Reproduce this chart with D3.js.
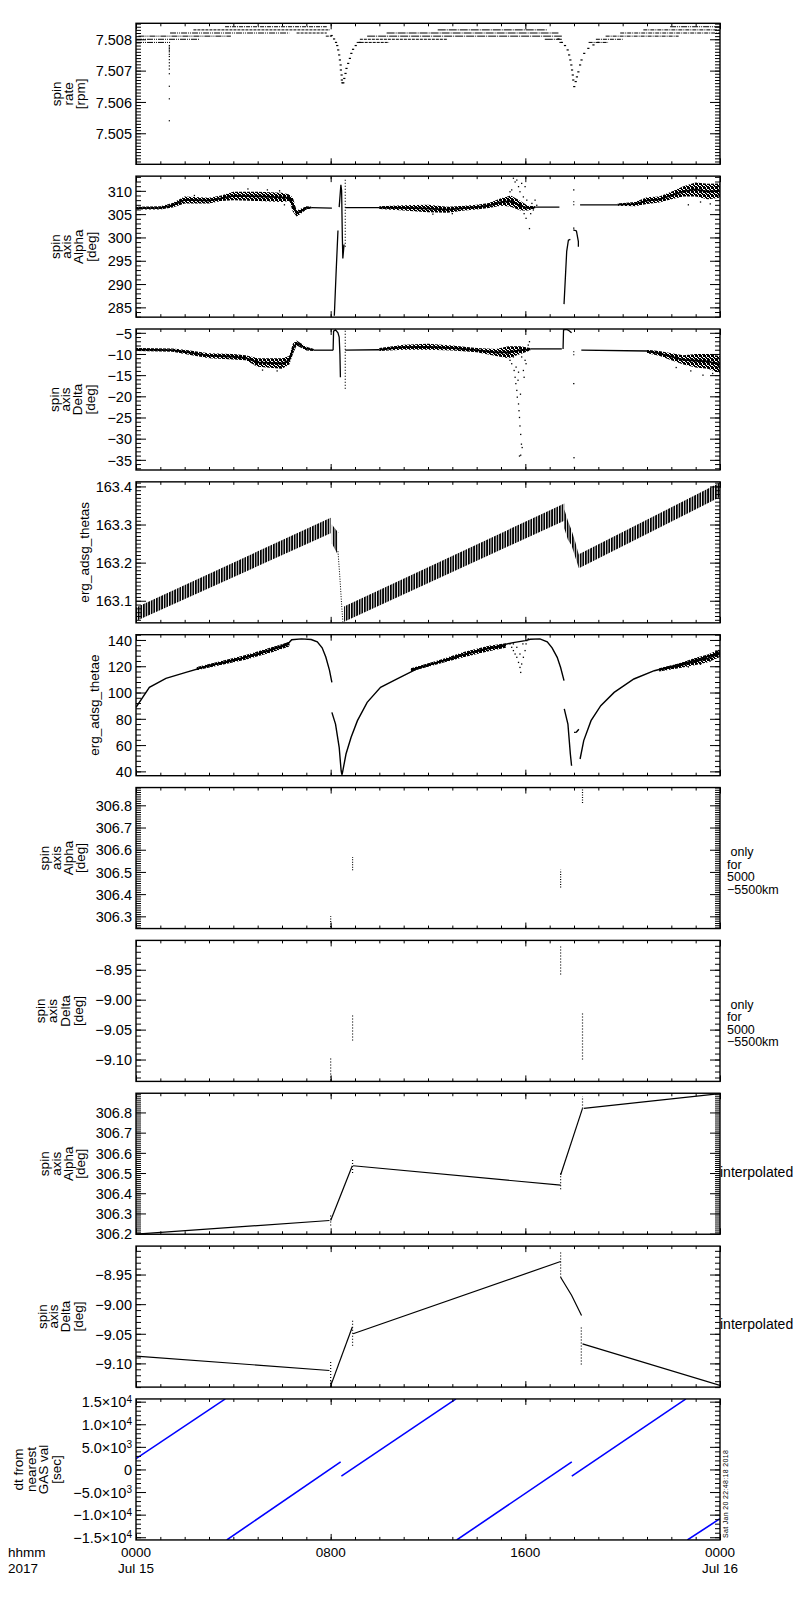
<!DOCTYPE html>
<html>
<head>
<meta charset="utf-8">
<script src="https://cdn.jsdelivr.net/npm/d3@7"></script>
<style>
  body { margin: 0; background: #fff; }
  svg text { font-family: "Liberation Sans", Arial, sans-serif; fill: #000; }
</style>
</head>
<body>
<svg id="chart" width="800" height="1600"></svg>
<script>
// ---------------- data (time in hours from 2017-07-15 00:00) ----------------

var xMajorTicks = [0, 8, 16, 24];
var xTickLabels = [["0000", "Jul 15"], ["0800"], ["1600"], ["0000", "Jul 16"]];

// spin rate: quantised rows [level, t0, t1]
var spinRows = [
  [7.5084, 3.66, 7.84], [7.5084, 21.95, 24],
  [7.5083, 2.36, 7.97], [7.5083, 12.4, 16.9], [7.5083, 20.85, 24],
  [7.5082, 1.4, 6.3], [7.5082, 6.6, 7.84], [7.5082, 10.3, 17.36], [7.5082, 19.9, 24],
  [7.5081, 0.1, 3.9], [7.5081, 7.8, 8.05], [7.5081, 9.5, 17.5], [7.5081, 19.3, 22.3],
  [7.5080, 0, 2.6], [7.5080, 9.2, 12.8], [7.5080, 16.8, 17.5], [7.5080, 18.9, 20.0],
  [7.5079, 0, 1.4], [7.5079, 9.07, 10.4], [7.5079, 17.4, 17.5], [7.5079, 18.6, 19.4]
];
var spinDip1 = [
  [8.04, 7.50812], [8.14, 7.50801], [8.22, 7.5079], [8.27, 7.5078], [8.31, 7.50766],
  [8.35, 7.5075], [8.38, 7.50734], [8.41, 7.50718], [8.42, 7.50702], [8.45, 7.50686],
  [8.46, 7.5067], [8.48, 7.50661], [8.52, 7.50661], [8.56, 7.50675], [8.61, 7.50691],
  [8.65, 7.50707], [8.72, 7.50723], [8.79, 7.50739], [8.85, 7.50755], [8.92, 7.50768],
  [9.03, 7.5078], [9.2, 7.5079]
];
var spinDip2 = [
  [17.36, 7.50801], [17.5, 7.5079], [17.63, 7.5078], [17.74, 7.50766], [17.8, 7.5075],
  [17.85, 7.50734], [17.89, 7.50718], [17.92, 7.50702], [17.95, 7.50686], [17.97, 7.5067],
  [18.01, 7.50649], [18.07, 7.50665], [18.12, 7.5068], [18.18, 7.50696], [18.25, 7.50718],
  [18.31, 7.50734], [18.42, 7.50755], [18.59, 7.50771], [18.8, 7.50782], [19.0, 7.5079]
];
var spinSpike = [
  [1.37, 7.5078], [1.37, 7.50775], [1.37, 7.5077], [1.37, 7.50765], [1.37, 7.5076],
  [1.37, 7.50752], [1.37, 7.50745], [1.37, 7.50735], [1.37, 7.50725], [1.37, 7.50715],
  [1.37, 7.50705], [1.37, 7.5069], [1.37, 7.5065], [1.37, 7.5061], [1.37, 7.5054]
];

// spin axis alpha: noisy bands [t, lo, hi], thin traces [t, v], scattered points
var alphaBands = [
  [[0, 306.0, 306.6], [1.0, 306.0, 306.7], [1.5, 306.4, 307.4], [2.0, 307.3, 308.8], [3.0, 307.3, 308.5],
   [3.5, 307.8, 309.0], [4.0, 308.0, 309.8], [5.0, 307.8, 309.8], [6.0, 307.6, 309.6], [6.3, 307.8, 309.2],
   [6.45, 305.5, 308.5], [6.6, 304.5, 305.8], [6.8, 305.2, 306.2], [7.0, 306.0, 306.7], [7.2, 306.2, 306.6]],
  [[10.0, 306.1, 306.7], [11.0, 305.8, 306.9], [12.0, 305.4, 307.0], [12.8, 305.3, 306.6], [13.5, 305.8, 306.8],
   [14.0, 306.0, 307.0], [14.5, 306.3, 307.4], [15.0, 306.8, 308.4], [15.4, 306.6, 309.0], [15.8, 305.8, 307.8],
   [16.1, 305.8, 306.8], [16.4, 306.2, 306.7]],
  [[19.8, 306.8, 307.3], [20.5, 306.7, 307.6], [21.0, 307.2, 308.6], [21.5, 307.5, 308.8], [22.0, 308.2, 309.8],
   [22.5, 308.8, 311.0], [23.0, 308.8, 311.8], [23.5, 308.2, 311.5], [24.0, 308.5, 311.6]]
];
var alphaLines = [
  [[7.2, 306.4], [8.05, 306.3]],
  [[8.15, 283.2], [8.22, 292], [8.3, 301.5]],
  [[8.35, 306.5], [8.42, 311.3], [8.45, 310.0], [8.48, 300.0], [8.5, 295.5], [8.55, 298.5]],
  [[8.6, 306.4], [10.0, 306.4]],
  [[16.4, 306.5], [17.4, 306.5]],
  [[17.59, 285.7], [17.7, 297.0], [17.77, 299.4], [17.85, 299.6]],
  [[17.97, 301.6], [18.1, 301.4], [18.18, 299.1], [18.18, 298.0]],
  [[18.25, 307.0], [19.8, 307.0]]
];
var alphaColumns = [[8.6, 298.0, 312.5], [17.99, 306.9, 308.2]];
var alphaScatter = [
  [15.37, 309.8], [15.44, 310.2], [15.51, 312.7], [15.58, 311.9], [15.65, 312.3], [15.72, 310.9],
  [15.78, 309.8], [15.81, 307.3], [15.85, 311.6], [15.92, 308.7], [15.95, 305.1], [15.99, 310.9],
  [16.03, 304.1], [16.06, 308.0], [16.12, 306.6], [16.17, 301.9], [16.22, 305.1], [16.27, 307.3],
  [16.33, 305.9], [16.4, 308.0], [16.47, 306.9], [15.65, 308.0], [15.58, 306.6], [15.3, 308.4],
  [17.99, 310.2], [17.99, 302.0], [22.7, 307.0], [23.2, 307.6], [23.6, 307.2], [23.9, 309.0],
  [4.6, 310.4], [5.4, 310.2], [5.9, 310.0], [6.1, 307.0], [2.4, 309.0], [12.2, 305.0], [13.0, 305.1]
];

// spin axis delta
var deltaBands = [
  [[0, -9.3, -8.6], [1.5, -9.5, -8.7], [2.0, -10.0, -9.0], [3.0, -11.0, -9.8], [4.0, -11.3, -10.0],
   [4.5, -11.5, -10.3], [5.0, -13.0, -11.0], [6.0, -13.5, -11.0], [6.3, -12.5, -10.5], [6.45, -10.0, -7.5],
   [6.6, -8.0, -6.8], [7.0, -9.2, -8.3], [7.3, -9.3, -8.8]],
  [[10.0, -9.3, -8.6], [11.0, -9.0, -7.8], [12.0, -9.0, -7.6], [13.0, -9.2, -8.0], [14.0, -9.6, -8.6],
   [14.8, -10.5, -8.8], [15.3, -11.0, -8.2], [15.8, -10.0, -8.2], [16.2, -9.2, -8.6]],
  [[21.0, -9.8, -9.0], [21.5, -10.4, -9.3], [22.0, -11.5, -9.8], [22.5, -12.5, -10.3], [23.0, -13.2, -10.0],
   [23.5, -13.5, -10.0], [24.0, -14.5, -10.5]]
];
var deltaLines = [
  [[7.3, -9.1], [8.1, -9.1]],
  [[8.1, -9.1], [8.12, -4.6], [8.2, -4.3], [8.3, -5.0], [8.35, -6.0], [8.38, -10.0], [8.4, -15.5]],
  [[8.6, -9.1], [10.0, -9.0]],
  [[16.2, -8.8], [17.5, -8.8]],
  [[17.55, -8.8], [17.57, -4.3], [17.7, -4.2], [17.8, -4.5], [17.9, -5.0]],
  [[18.3, -9.1], [21.0, -9.3]]
];
var deltaColumns = [[8.6, -18.2, -4.2], [17.99, -10.3, -9.1]];
var deltaScatter = [
  [15.3, -9.9], [15.37, -11.5], [15.44, -12.3], [15.51, -10.7], [15.54, -13.9], [15.58, -15.5],
  [15.61, -17.0], [15.65, -18.6], [15.67, -20.2], [15.72, -21.8], [15.74, -23.4], [15.76, -25.0],
  [15.78, -27.0], [15.81, -29.0], [15.84, -31.3], [15.81, -33.9], [15.76, -34.1], [15.87, -32.1],
  [15.92, -13.9], [15.99, -11.5], [16.03, -12.3], [16.06, -9.1], [16.12, -7.9], [16.17, -7.1],
  [15.95, -15.5], [15.62, -13.1], [15.72, -14.3], [15.85, -10.7], [15.7, -16.2], [15.8, -19.5],
  [17.99, -17.0], [18.0, -34.5], [18.02, -36.8], [22.8, -14.0], [23.3, -15.0], [23.7, -14.6], [22.2, -13.2],
  [5.2, -13.8], [5.8, -14.0], [4.9, -12.6], [6.0, -12.9]
];

// erg_adsg_thetas: band [t, lo, hi]
var thetasBands = [
  [[0, 163.047, 163.082], [8.0, 163.277, 163.318]],
  [[8.05, 163.25, 163.30], [8.3, 163.22, 163.28]],
  [[8.55, 163.045, 163.085], [17.6, 163.31, 163.355]],
  [[17.6, 163.29, 163.34], [17.75, 163.26, 163.31], [17.9, 163.245, 163.285], [18.05, 163.215, 163.255], [18.2, 163.185, 163.22]],
  [[18.2, 163.185, 163.222], [24, 163.372, 163.41]]
];
var thetasDrop = [[8.3, 163.23], [8.38, 163.16], [8.45, 163.09], [8.5, 163.045]];

// erg_adsg_thetae
var thetaeLines = [
  [[0, 88.7], [0.55, 103.9], [1.23, 110.8], [2.05, 115.3], [2.98, 120.4], [3.97, 124.2], [4.99, 129.3],
   [5.98, 135.7], [6.3, 138.2], [6.4, 140.2], [6.8, 140.8], [7.2, 140.3], [7.45, 138.5], [7.65, 134.0],
   [7.8, 127.0], [7.95, 117.0], [8.05, 107.8]],
  [[8.05, 84.9], [8.2, 76.0], [8.35, 58.3], [8.43, 40.5], [8.46, 37.5]],
  [[8.47, 37.5], [8.63, 53.2], [8.84, 65.9], [9.1, 78.6], [9.5, 92.5], [10.05, 103.9], [10.73, 110.3],
   [11.67, 119.1], [12.9, 125.5], [14.0, 131.9], [14.96, 135.7], [15.5, 138.0], [16.0, 139.5],
   [16.2, 140.5], [16.6, 140.8], [16.9, 138.5], [17.1, 134.0], [17.31, 126.8], [17.45, 119.0], [17.59, 109.0]],
  [[17.6, 87.5], [17.75, 76.0], [17.85, 53.2], [17.9, 44.3]],
  [[18.0, 69.7], [18.1, 69.9], [18.2, 72.0]],
  [[18.25, 49.4], [18.4, 63.4], [18.7, 78.6], [19.1, 90.0], [19.65, 100.1], [20.46, 110.3], [21.3, 116.6],
   [22.1, 120.4], [22.9, 124.2], [24, 130.6]]
];
var thetaeBands = [
  [[2.5, 117.0, 119.5], [3.5, 121.0, 124.0], [4.5, 125.0, 128.5], [5.5, 130.0, 134.0], [6.3, 135.0, 138.5]],
  [[11.3, 116.0, 118.5], [12.5, 122.0, 125.0], [13.5, 127.0, 131.0], [14.5, 131.5, 135.5], [15.2, 134.0, 137.5]],
  [[21.5, 116.0, 118.5], [22.3, 118.5, 122.0], [23.0, 121.0, 126.5], [23.5, 123.0, 129.0], [24, 127.0, 133.0]]
];
var thetaeScatter = [
  [15.37, 137.0], [15.44, 134.4], [15.51, 131.9], [15.58, 129.3], [15.65, 126.8], [15.72, 122.9],
  [15.78, 119.1], [15.81, 115.3], [15.85, 121.7], [15.92, 126.8], [15.99, 131.9], [16.03, 137.0],
  [16.06, 139.5], [16.12, 140.8], [15.51, 137.0], [15.65, 134.4], [15.78, 129.3], [15.9, 137.0],
  [23.2, 121.5], [23.6, 124.0], [22.7, 119.5]
];

// spin axis alpha / delta, only for 5000-5500km: dotted columns [t, lo, hi]
var alphaOnlyCols = [[8.0, 306.252, 306.3], [8.9, 306.507, 306.567], [17.45, 306.43, 306.51], [18.35, 306.81, 306.875]];
var deltaOnlyCols = [[8.0, -9.135, -9.095], [8.9, -9.068, -9.023], [17.45, -8.958, -8.908], [18.35, -9.1, -9.02]];

// interpolated alpha / delta
var alphaInterp = [
  [[0, 306.198], [7.95, 306.265]],
  [[8.0, 306.265], [8.89, 306.536]],
  [[8.92, 306.536], [17.45, 306.44]],
  [[17.45, 306.49], [18.35, 306.82]],
  [[18.4, 306.82], [24, 306.893]]
];
var alphaInterpCols = [[8.0, 306.24, 306.29], [8.9, 306.5, 306.565], [17.45, 306.42, 306.5], [18.35, 306.82, 306.88]];
var deltaInterp = [
  [[0, -9.0876], [7.95, -9.112]],
  [[8.0, -9.138], [8.89, -9.0386]],
  [[8.92, -9.05], [17.45, -8.928]],
  [[17.45, -8.9546], [17.9, -8.985], [18.31, -9.019]],
  [[18.35, -9.067], [24, -9.137]]
];
var deltaInterpCols = [[8.0, -9.14, -9.095], [8.9, -9.07, -9.025], [17.45, -8.955, -8.91], [18.3, -9.102, -9.037]];

// dt from nearest GAS val [sec]: straight runs [t0, v0, t1, v1]
var dtRuns = [
  [0, 2400, 3.67, 15600], [3.73, -15600, 8.41, 1690], [8.44, -1490, 13.15, 15600],
  [13.18, -15600, 17.91, 1690], [17.91, -1490, 22.6, 15600], [22.66, -15600, 24, -10890]
];

// ---------------- layout ----------------
var svg = d3.select("#chart");
var plotLeft = 136, plotRight = 720;
var panelTop = 23.3, panelStep = 152.85, panelH = 141;

var x = d3.scaleLinear().domain([0, 24]).range([plotLeft, plotRight]);

var defs = svg.append("defs");
// vertical hatch for the fast oscillation of thetas
var hatch = defs.append("pattern")
  .attr("id", "hatch")
  .attr("patternUnits", "userSpaceOnUse")
  .attr("width", 2.6).attr("height", 4);
hatch.append("rect").attr("width", 1.7).attr("height", 4).attr("fill", "#000");
// speckle texture for the noisy point clouds
var speck = defs.append("pattern")
  .attr("id", "speck")
  .attr("patternUnits", "userSpaceOnUse")
  .attr("width", 4).attr("height", 4);
speck.append("path")
  .attr("d", "M0,0h2v1h-2z M3,0h1v1h-1z M1,1h2v1h-2z M0,2h1v1h-1z M2,2h2v1h-2z M0,3h2v1h-2z M3,3h1v1h-1z")
  .attr("fill", "#000");

var minus = function (s) { return s.replace("-", "\u2212"); };

var panels = [
  { domain: [7.50401, 7.50851], major: [7.505, 7.506, 7.507, 7.508], minor: 0.0001, fmt: d3.format(".3f"),
    title: ["spin", "rate", "[rpm]"], titleX: [56, 68, 80] },
  { domain: [282.9, 313.15], major: d3.range(285, 311, 5), minor: 1, fmt: d3.format("d"),
    title: ["spin", "axis", "Alpha", "[deg]"], titleX: [55, 66, 78, 91] },
  { domain: [-37.4, -4.1], major: d3.range(-35, -4, 5), minor: 1, fmt: d3.format("d"),
    title: ["spin", "axis", "Delta", "[deg]"], titleX: [54, 65, 77, 90] },
  { domain: [163.042, 163.412], major: [163.1, 163.2, 163.3, 163.4], minor: 0.01, fmt: d3.format(".1f"),
    title: ["erg_adsg_thetas"], titleX: [84] },
  { domain: [36.7, 144], major: d3.range(40, 141, 20), minor: 4, fmt: d3.format("d"),
    title: ["erg_adsg_thetae"], titleX: [94] },
  { domain: [306.245, 306.88], major: [306.3, 306.4, 306.5, 306.6, 306.7, 306.8], minor: 0.01, fmt: d3.format(".1f"),
    title: ["spin", "axis", "Alpha", "[deg]"], titleX: [44, 56, 68, 80], note: [" only", "for", "5000", "\u22125500km"] },
  { domain: [-9.1365, -8.901], major: [-9.10, -9.05, -9.00, -8.95], minor: 0.01, fmt: d3.format(".2f"),
    title: ["spin", "axis", "Delta", "[deg]"], titleX: [40, 52, 65, 78], note: [" only", "for", "5000", "\u22125500km"] },
  { domain: [306.197, 306.895], major: [306.2, 306.3, 306.4, 306.5, 306.6, 306.7, 306.8], minor: 0.01, fmt: d3.format(".1f"),
    title: ["spin", "axis", "Alpha", "[deg]"], titleX: [44, 56, 68, 80], note: ["interpolated"] },
  { domain: [-9.140, -8.902], major: [-9.10, -9.05, -9.00, -8.95], minor: 0.01, fmt: d3.format(".2f"),
    title: ["spin", "axis", "Delta", "[deg]"], titleX: [42, 53, 65, 78], note: ["interpolated"] },
  { domain: [-15600, 15600], major: d3.range(-15000, 15001, 5000), minor: 1000, fmt: null,
    title: ["dt from", "nearest", "GAS val", "[sec]"], titleX: [18, 31, 43, 56] }
];

function minorValues(domain, step) {
  var lo = Math.ceil(domain[0] / step - 1e-6), hi = Math.floor(domain[1] / step + 1e-6);
  return d3.range(lo, hi + 1).map(function (k) { return +(k * step).toPrecision(10); });
}

var xMinor = d3.range(0, 25, 1);

panels.forEach(function (p, i) {
  var top = panelTop + i * panelStep;
  var bottom = top + panelH;
  var y = d3.scaleLinear().domain(p.domain).range([bottom, top]);
  p.y = y;
  p.top = top;

  var g = svg.append("g").attr("class", "panel");

  // clip for the data
  defs.append("clipPath").attr("id", "clip" + i)
    .append("rect").attr("x", plotLeft).attr("y", top).attr("width", plotRight - plotLeft).attr("height", panelH);
  p.plot = g.append("g").attr("clip-path", "url(#clip" + i + ")");

  // y axes (ticks point inward)
  var minors = minorValues(p.domain, p.minor);
  g.append("g").attr("transform", "translate(" + plotLeft + ",0)")
    .call(d3.axisLeft(y).tickValues(minors).tickSizeInner(-5).tickSizeOuter(0).tickFormat(""));
  g.append("g").attr("transform", "translate(" + plotRight + ",0)")
    .call(d3.axisRight(y).tickValues(minors).tickSizeInner(-5).tickSizeOuter(0).tickFormat(""));
  g.append("g").attr("transform", "translate(" + plotRight + ",0)")
    .call(d3.axisRight(y).tickValues(p.major).tickSizeInner(-10).tickSizeOuter(0).tickFormat(""));
  var left = g.append("g").attr("class", "yaxis").attr("transform", "translate(" + plotLeft + ",0)")
    .call(d3.axisLeft(y).tickValues(p.major).tickSizeInner(-10).tickSizeOuter(0).tickPadding(4)
      .tickFormat(p.fmt ? function (d) { return minus(p.fmt(d)); } : function () { return ""; }));

  if (!p.fmt) {
    left.selectAll(".tick text").each(function (d) {
      var t = d3.select(this);
      if (d === 0) { t.text("0"); return; }
      var e = Math.floor(Math.log10(Math.abs(d)) + 1e-9);
      var m = d / Math.pow(10, e);
      t.append("tspan").text(minus(m.toFixed(1)) + "\u00d710");
      t.append("tspan").attr("dy", "-0.45em").style("font-size", "10px").text(e);
    });
  }

  // x axes on top and bottom of every panel
  g.append("g").attr("transform", "translate(0," + bottom + ")")
    .call(d3.axisBottom(x).tickValues(xMinor).tickSizeInner(-3).tickSizeOuter(0).tickFormat(""));
  g.append("g").attr("transform", "translate(0," + bottom + ")")
    .call(d3.axisBottom(x).tickValues(xMajorTicks).tickSizeInner(-6).tickSizeOuter(0).tickFormat(""));
  g.append("g").attr("transform", "translate(0," + top + ")")
    .call(d3.axisTop(x).tickValues(xMinor).tickSizeInner(-3).tickSizeOuter(0).tickFormat(""));
  g.append("g").attr("transform", "translate(0," + top + ")")
    .call(d3.axisTop(x).tickValues(xMajorTicks).tickSizeInner(-6).tickSizeOuter(0).tickFormat(""));

  g.selectAll(".domain").remove();
  g.selectAll(".tick line").attr("stroke", "#000").attr("stroke-width", 1);
  g.selectAll(".tick text").style("font-size", "14.5px").attr("fill", "#000").attr("dy", "0.36em");

  g.append("rect")
    .attr("x", plotLeft).attr("y", top)
    .attr("width", plotRight - plotLeft).attr("height", panelH)
    .attr("fill", "none").attr("stroke", "#000").attr("stroke-width", 1.4);

  // y title: stacked rotated lines
  var cy = top + panelH / 2;
  p.title.forEach(function (s, k) {
    g.append("text")
      .attr("transform", "translate(" + p.titleX[k] + "," + cy + ") rotate(-90)")
      .attr("text-anchor", "middle")
      .attr("dy", "0.35em")
      .style("font-size", "13.5px")
      .text(s);
  });

  // note on the right side
  if (p.note) {
    var multi = p.note.length > 1;
    p.note.forEach(function (s, k) {
      g.append("text")
        .attr("x", multi ? 727 : 720)
        .attr("y", cy + (multi ? -2 + k * 12.5 : 12.8))
        .attr("xml:space", "preserve")
        .style("font-size", multi ? "12.5px" : "14px")
        .text(s);
    });
  }
});

// ---------------- marks ----------------
var line = function (y) {
  return d3.line().x(function (d) { return x(d[0]); }).y(function (d) { return y(d[1]); });
};
var band = function (y) {
  return d3.area().x(function (d) { return x(d[0]); })
    .y0(function (d) { return y(d[1]); }).y1(function (d) { return y(d[2]); });
};
function drawDots(p, pts, w, h) {
  p.plot.append("g").selectAll("rect").data(pts).enter().append("rect")
    .attr("x", function (d) { return x(d[0]) - w / 2; })
    .attr("y", function (d) { return p.y(d[1]) - h / 2; })
    .attr("width", w).attr("height", h).attr("fill", "#000");
}
function drawLines(p, list, width, dash, color) {
  p.plot.append("g").selectAll("path").data(list).enter().append("path")
    .attr("d", line(p.y))
    .attr("fill", "none").attr("stroke", color || "#000")
    .attr("stroke-width", width)
    .attr("stroke-dasharray", dash || null);
}
function drawBands(p, list) {
  var gb = p.plot.append("g");
  // outer speckled cloud plus a darker core along the middle
  gb.selectAll("path.cloud").data(list).enter().append("path").attr("class", "cloud")
    .attr("d", band(p.y)).attr("fill", "url(#speck)");
  gb.selectAll("path.core").data(list).enter().append("path").attr("class", "core")
    .attr("d", d3.line().x(function (d) { return x(d[0]); })
      .y(function (d) { return p.y((d[1] + d[2]) / 2); }))
    .attr("fill", "none").attr("stroke", "#000").attr("stroke-width", 1.8);
}
function drawColumns(p, cols, dash) {
  p.plot.append("g").selectAll("line").data(cols).enter().append("line")
    .attr("x1", function (d) { return x(d[0]); }).attr("x2", function (d) { return x(d[0]); })
    .attr("y1", function (d) { return p.y(d[1]); }).attr("y2", function (d) { return p.y(d[2]); })
    .attr("stroke", "#000").attr("stroke-width", 1.2)
    .attr("stroke-dasharray", dash || "1,2");
}

// panel 1: spin rate
var P = panels;
var dashes = ["4,1,1,1", "6,1,1,1,1,1", "3,1", "8,1,1,1"];
P[0].plot.append("g").selectAll("line").data(spinRows).enter().append("line")
  .attr("x1", function (d) { return x(d[1]); }).attr("x2", function (d) { return x(d[2]); })
  .attr("y1", function (d) { return P[0].y(d[0]); }).attr("y2", function (d) { return P[0].y(d[0]); })
  .attr("stroke", "#000").attr("stroke-width", 1)
  .attr("stroke-dasharray", function (d, k) { return dashes[k % dashes.length]; });
drawDots(P[0], spinDip1, 2.2, 1.2);
drawDots(P[0], spinDip2, 2.2, 1.2);
drawDots(P[0], spinSpike, 1.2, 1.2);

// panel 2: alpha
drawBands(P[1], alphaBands);
drawLines(P[1], alphaLines, 1.3);
drawColumns(P[1], alphaColumns);
drawDots(P[1], alphaScatter, 1.3, 1.3);

// panel 3: delta
drawBands(P[2], deltaBands);
drawLines(P[2], deltaLines, 1.3);
drawColumns(P[2], deltaColumns);
drawDots(P[2], deltaScatter, 1.3, 1.3);

// panel 4: thetas (fast oscillation drawn as hatched band)
P[3].plot.append("g").selectAll("path").data(thetasBands).enter().append("path")
  .attr("d", band(P[3].y)).attr("fill", "url(#hatch)");
drawLines(P[3], [thetasDrop], 1, "1,1.5");

// panel 5: thetae
drawBands(P[4], thetaeBands);
drawLines(P[4], thetaeLines, 1.4);
drawDots(P[4], thetaeScatter, 1.3, 1.3);

// panels 6-7: only for 5000-5500 km
drawColumns(P[5], alphaOnlyCols, "1,1.5");
drawColumns(P[6], deltaOnlyCols, "1,2");

// panels 8-9: interpolated
drawLines(P[7], alphaInterp, 1.2);
drawColumns(P[7], alphaInterpCols, "1,2");
drawLines(P[8], deltaInterp, 1.2);
drawColumns(P[8], deltaInterpCols, "1,2");

// panel 10: dt
drawLines(P[9], dtRuns.map(function (r) { return [[r[0], r[1]], [r[2], r[3]]]; }), 1.6, null, "#0000ff");

// ---------------- x labels ----------------
var xl = svg.append("g").style("font-size", "13.5px");
xMajorTicks.forEach(function (t, k) {
  xTickLabels[k].forEach(function (s, j) {
    xl.append("text").attr("x", x(t)).attr("y", 1557 + j * 15.5)
      .attr("text-anchor", "middle").text(s);
  });
});
xl.append("text").attr("x", 8).attr("y", 1557).text("hhmm");
xl.append("text").attr("x", 8).attr("y", 1572.5).text("2017");

svg.append("text")
  .attr("transform", "translate(728,1538) rotate(-90)")
  .attr("textLength", 88)
  .style("font-size", "7px")
  .text("Sat Jan 20 22:48:18 2018");
</script>
</body>
</html>
